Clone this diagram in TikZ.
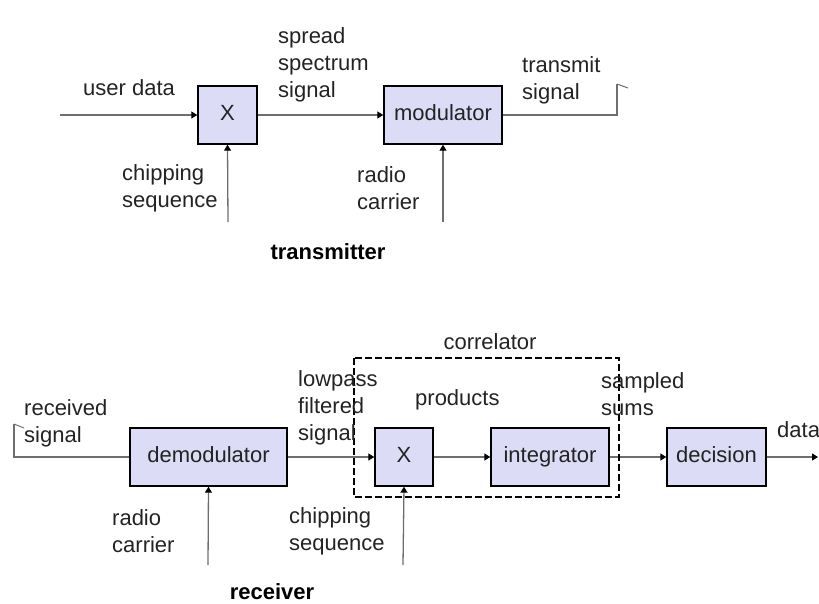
\documentclass[tikz,border=0pt]{standalone}
\usepackage{fontspec}
\setmainfont{Liberation Sans}
\usetikzlibrary{arrows.meta}
\definecolor{boxfill}{RGB}{220,220,246}
\definecolor{wire}{RGB}{110,110,110}
\definecolor{ink}{RGB}{35,35,35}
\tikzset{
  blk/.style={draw=black, line width=1.4pt, fill=boxfill, inner sep=0pt,
    minimum height=58pt, text height=16pt, text depth=5pt, text=ink,
    font=\fontsize{22}{27}\selectfont},
  lbl/.style={inner sep=0pt, align=left, anchor=west, text=ink,
    font=\fontsize{22}{27}\selectfont},
  ttl/.style={inner sep=0pt, text=black, font=\fontsize{22}{27}\selectfont\bfseries},
  sig/.style={draw=wire, line width=1.3pt},
  arr/.style={sig, -{Triangle[length=6pt,width=7pt,color=black,fill=black]}},
  ant/.style={draw=wire, line width=1pt},
  corr/.style={draw=black, line width=1.3pt, dash pattern=on 7pt off 3pt}
}
\begin{document}
\begin{tikzpicture}[x=1pt, y=-1pt]
\useasboundingbox (0,0) rectangle (819,603);

% ---- transmitter ----
\node[blk, minimum width=59pt] (tx) at (227.5,115) {X};
\node[blk, minimum width=118pt] (mod) at (443,115) {modulator};
\coordinate (udin) at (60,115);
\coordinate (chipin) at (228,222);
\coordinate (rfin) at (443,222);
\coordinate (txa) at (617,115);
\coordinate (txb) at (617,84);
\coordinate (txc) at (628,88);

\draw[arr] (udin) -- (tx.west);
\draw[arr] (tx.east) -- (mod.west);
\draw[arr] (chipin) -- (tx.south);
\draw[arr] (rfin) -- (mod.south);
\draw[sig] (mod.east) -- (txa) -- (txb);
\draw[ant] (txb) -- (txc);

\node[lbl] (ud) at (83,88) {user data};
\node[lbl] (sss) at (278,65) {spread\\spectrum\\signal};
\node[lbl] (chip1) at (122,188) {chipping\\sequence};
\node[lbl] (rc1) at (357,188) {radio\\carrier};
\node[lbl] (ts) at (522,80) {transmit\\signal};
\node[ttl] (txt) at (328,252) {transmitter};

% ---- receiver ----
\node[blk, minimum width=157pt] (dem) at (208.5,457) {demodulator};
\node[blk, minimum width=58pt] (rx) at (404,457) {X};
\node[blk, minimum width=118pt] (int) at (550,457) {integrator};
\node[blk, minimum width=99pt] (dec) at (716.5,457) {decision};
\coordinate (rxa) at (14,457);
\coordinate (rxb) at (14,424);
\coordinate (rxc) at (24,428);
\coordinate (rfin2) at (208,565);
\coordinate (chipin2) at (403,565);
\coordinate (dout) at (818,457);

\draw[sig] (dem.west) -- (rxa) -- (rxb);
\draw[ant] (rxb) -- (rxc);
\draw[arr] (dem.east) -- (rx.west);
\draw[arr] (rx.east) -- (int.west);
\draw[arr] (int.east) -- (dec.west);
\draw[arr] (dec.east) -- (dout);
\draw[arr] (rfin2) -- (dem.south);
\draw[arr] (chipin2) -- (rx.south);

% correlator outline
\draw[corr] (354,358) rectangle (619,497);
\node[lbl, anchor=center] (cl) at (490,342) {correlator};

\node[lbl] (rs) at (24,423) {received\\signal};
\node[lbl] (lfs) at (298,408) {lowpass\\filtered\\signal};
\node[lbl] (pr) at (415,400) {products};
\node[lbl] (ss) at (601,394) {sampled\\sums};
\node[lbl] (dl) at (777,430) {data};
\node[lbl] (rc2) at (112,531) {radio\\carrier};
\node[lbl] (chip2) at (289,531) {chipping\\sequence};
\node[ttl] (rxt) at (272,592) {receiver};
\end{tikzpicture}
\end{document}
